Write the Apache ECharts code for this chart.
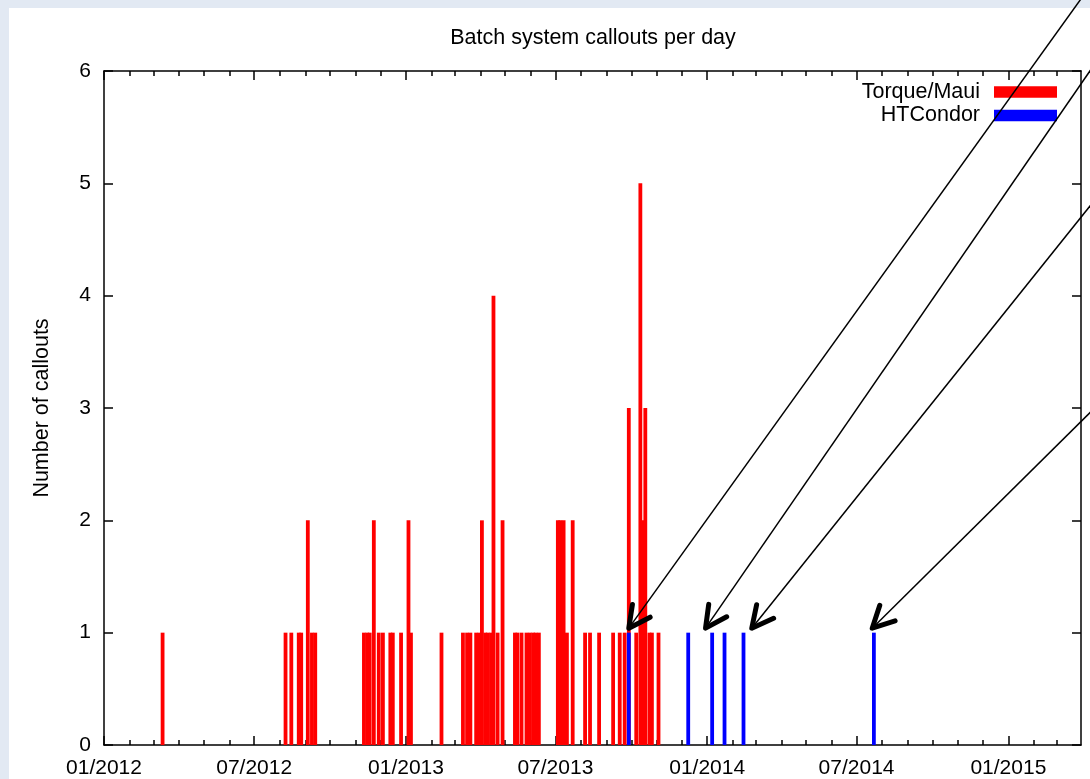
<!DOCTYPE html>
<html><head><meta charset="utf-8">
<script src="https://cdn.jsdelivr.net/npm/echarts@6/dist/echarts.min.js"></script>
<style>
html,body{margin:0;padding:0;background:#e2e9f3;overflow:hidden;width:1090px;height:779px}
#panel{position:absolute;left:9px;top:8px;width:1081px;height:771px;background:#fff}
#chart{position:absolute;left:0;top:0;width:1090px;height:779px}
</style></head><body>
<div id="panel"></div><div id="chart"></div>
<script>
// ---- data ----
const torqueDates = ['2012-03-12','2012-08-08','2012-08-15','2012-08-24','2012-08-27','2012-09-04','2012-09-09','2012-09-13',
  '2012-11-11','2012-11-15','2012-11-18','2012-11-23','2012-11-29','2012-12-04','2012-12-13','2012-12-16','2012-12-26',
  '2013-01-04','2013-01-07','2013-02-13','2013-03-11','2013-03-16','2013-03-20','2013-03-27','2013-03-31','2013-04-03',
  '2013-04-07','2013-04-10','2013-04-14','2013-04-17','2013-04-22','2013-04-28','2013-05-13','2013-05-16','2013-05-21',
  '2013-05-27','2013-05-31','2013-06-04','2013-06-07','2013-06-11','2013-07-04','2013-07-07','2013-07-11','2013-07-15',
  '2013-07-22','2013-08-06','2013-08-12','2013-08-23','2013-09-09','2013-09-17','2013-09-23','2013-09-28','2013-10-07',
  '2013-10-12','2013-10-15','2013-10-18','2013-10-23','2013-10-26','2013-11-03'];
const torqueCounts = [1,1,1,1,1,2,1,1,
  1,1,1,2,1,1,1,1,1,
  2,1,1,1,1,1,1,1,2,
  1,1,1,4,1,2,1,1,1,
  1,1,1,1,1,2,2,2,1,
  2,1,1,1,1,1,1,3,1,
  5,2,3,1,1,1];
const condorDates = ['2013-09-28','2013-12-09','2014-01-07','2014-01-22','2014-02-14','2014-07-22'];
const condorCounts = [1,1,1,1,1,1];
const seriesNames = ['Torque/Maui','HTCondor'];
const xMin = '2012-01-01', xMax = '2015-03-30';
const majorTickDates = ['2012-01-01','2012-07-01','2013-01-01','2013-07-01','2014-01-01','2014-07-01','2015-01-01'];
const majorTickLabels = ['01/2012','07/2012','01/2013','07/2013','01/2014','07/2014','01/2015'];
const arrowTipDates = ['2013-09-28','2013-12-30','2014-02-24','2014-07-20'];
const arrowTipValue = 1.04;
const arrowAngles = [54.3, 55.4, 51.3, 44.7];

// ---- chart ----
const FONT = "'Liberation Sans', Arial, Helvetica, sans-serif";
const ts = s => { const p = s.split('-').map(Number); return Date.UTC(p[0], p[1]-1, p[2]); };
const majorTs = majorTickDates.map(ts);
const minorTs = [];
{
  const a = new Date(ts(xMin)), bEnd = ts(xMax);
  let y = a.getUTCFullYear(), m = a.getUTCMonth();
  while (true) {
    const t = Date.UTC(y, m, 1);
    if (t > bEnd) break;
    minorTs.push(t);
    m++; if (m > 11) { m = 0; y++; }
  }
}
const black = {color:'#000', width:1.5};
const xBase = {type:'value', min: ts(xMin), max: ts(xMax), splitLine:{show:false}, scale:true};
const fmt = v => { const i = majorTs.indexOf(v); return i >= 0 ? majorTickLabels[i] : ''; };

const chart = echarts.init(document.getElementById('chart'), null, {renderer:'canvas'});
chart.setOption({
  animation:false,
  textStyle:{fontFamily:FONT},
  title:{text:'Batch system callouts per day', left:588, top:22, textAlign:'center',
    textStyle:{fontSize:21.5, fontWeight:'normal', color:'#000', fontFamily:FONT}},
  legend:{data:seriesNames, orient:'vertical', right:28, top:76, align:'right', icon:'rect',
    itemWidth:63, itemHeight:11.5, itemGap:1.5,
    textStyle:{fontSize:21.5, color:'#000', fontFamily:FONT, lineHeight:22, padding:[0,9,0,0]}},
  grid:{left:104, right:9, top:71, bottom:34, containLabel:false},
  xAxis:[
    Object.assign({}, xBase, {position:'bottom',
      axisLine:{show:true, onZero:false, lineStyle:black},
      axisTick:{show:true, inside:true, length:9, customValues:majorTs, lineStyle:black},
      axisLabel:{show:true, customValues:majorTs, formatter:fmt, fontSize:21, color:'#000', margin:13, fontFamily:FONT}}),
    Object.assign({}, xBase, {position:'bottom',
      axisLine:{show:false, onZero:false},
      axisTick:{show:true, inside:true, length:5, customValues:minorTs, lineStyle:black},
      axisLabel:{show:false}}),
    Object.assign({}, xBase, {position:'top',
      axisLine:{show:true, onZero:false, lineStyle:black},
      axisTick:{show:true, inside:true, length:9, customValues:majorTs, lineStyle:black},
      axisLabel:{show:false}}),
    Object.assign({}, xBase, {position:'top',
      axisLine:{show:false, onZero:false},
      axisTick:{show:true, inside:true, length:5, customValues:minorTs, lineStyle:black},
      axisLabel:{show:false}})
  ],
  yAxis:[
    {type:'value', min:0, max:6, interval:1, position:'left',
      axisLine:{show:true, onZero:false, lineStyle:black},
      axisTick:{show:true, inside:true, length:9, lineStyle:black},
      axisLabel:{fontSize:21, color:'#000', margin:13, fontFamily:FONT},
      splitLine:{show:false},
      name:'Number of callouts', nameLocation:'middle', nameGap:51, nameRotate:90,
      nameTextStyle:{fontSize:21.5, color:'#000', fontFamily:FONT}},
    {type:'value', min:0, max:6, interval:1, position:'right',
      axisLine:{show:true, onZero:false, lineStyle:black},
      axisTick:{show:true, inside:true, length:9, lineStyle:black},
      axisLabel:{show:false}, splitLine:{show:false}}
  ],
  series:[
    {name:seriesNames[0], type:'bar', xAxisIndex:0, yAxisIndex:0, barWidth:3.8, barGap:'-100%',
      itemStyle:{color:'#ff0000'},
      data: torqueDates.map((d,i)=>[ts(d), torqueCounts[i]])},
    {name:seriesNames[1], type:'bar', xAxisIndex:0, yAxisIndex:0, barWidth:3.8, barGap:'-100%',
      itemStyle:{color:'#0000ff'},
      data: condorDates.map((d,i)=>[ts(d), condorCounts[i]])}
  ]
});

// arrows (annotations anchored at data coordinates)
const graphics = [];
arrowTipDates.forEach((d,i)=>{
  const p = chart.convertToPixel({xAxisIndex:0, yAxisIndex:0}, [ts(d), arrowTipValue]);
  const a = arrowAngles[i]*Math.PI/180;
  const L = 1500;
  graphics.push({type:'line', silent:true, z:100,
    shape:{x1:p[0], y1:p[1], x2:p[0]+Math.cos(a)*L, y2:p[1]-Math.sin(a)*L},
    style:{stroke:'#000', lineWidth:1.5}});
  const h = 24, sp = 27*Math.PI/180;
  graphics.push({type:'polyline', silent:true, z:101,
    shape:{points:[[p[0]+Math.cos(a+sp)*h, p[1]-Math.sin(a+sp)*h],[p[0],p[1]],[p[0]+Math.cos(a-sp)*h, p[1]-Math.sin(a-sp)*h]]},
    style:{stroke:'#000', lineWidth:5, lineCap:'round', lineJoin:'round', fill:null}});
});
chart.setOption({graphic:graphics});
</script>
</body></html>
